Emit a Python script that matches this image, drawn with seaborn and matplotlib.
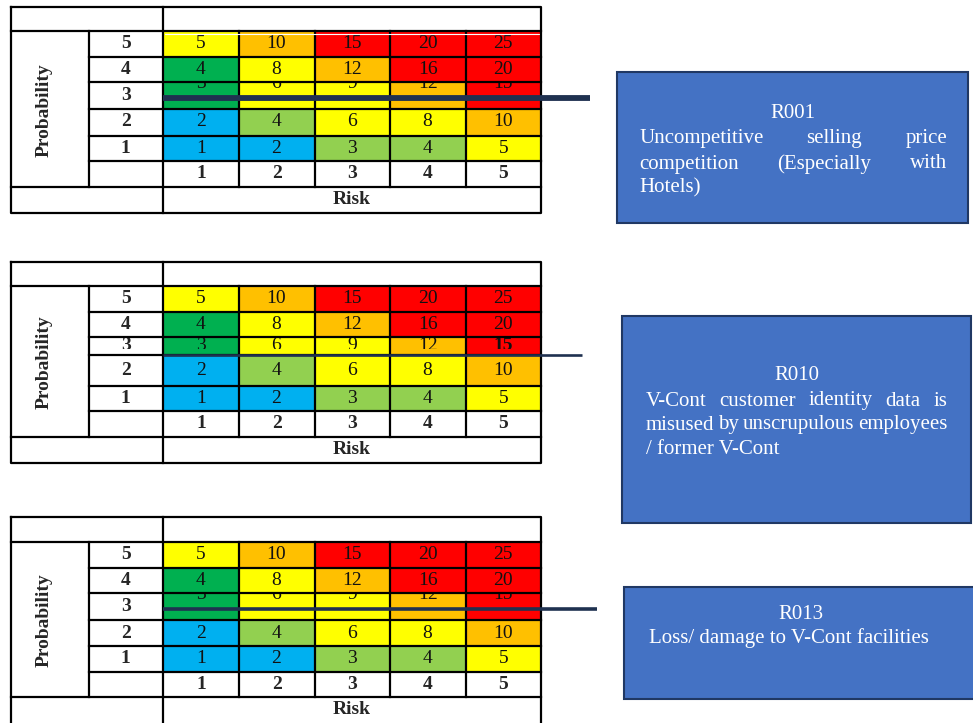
import numpy as np
import matplotlib
matplotlib.use("Agg")
import matplotlib.pyplot as plt
from matplotlib.colors import ListedColormap
from matplotlib.patches import Rectangle
from matplotlib.transforms import Bbox
import seaborn as sns

# ---------------- data ----------------
prob_labels = [5, 4, 3, 2, 1]
risk_labels = [1, 2, 3, 4, 5]
scores = [[5, 10, 15, 20, 25],
          [4, 8, 12, 16, 20],
          [3, 6, 9, 12, 15],
          [2, 4, 6, 8, 10],
          [1, 2, 3, 4, 5]]
# 0 very low, 1 low, 2 low-moderate, 3 moderate, 4 high, 5 extreme
levels = [[3, 4, 5, 5, 5],
          [2, 3, 4, 5, 5],
          [2, 3, 3, 4, 5],
          [0, 1, 3, 3, 4],
          [0, 0, 1, 1, 3]]
level_colors = ["#00B0F0", "#92D050", "#00B050", "#FFFF00", "#FFC000", "#FF0000"]

risk_ids = ["R001", "R010", "R013"]
risk_lines = [
    ["Uncompetitive selling price", "competition (Especially with", "Hotels)"],
    ["V-Cont customer identity data is", "misused by unscrupulous employees", "/ former V-Cont"],
    ["Loss/ damage to V-Cont facilities"],
]
risk_justify = [[True, True, False], [True, True, False], [False]]

# ---------------- layout (pixels) ----------------
W, H = 973, 723
X_OUT, X_PROB, X_GRID, X_END = 11, 88.5, 163, 541
col_edges = [163, 239, 314.5, 390, 465.5, 541]

layouts = [
    dict(top=7, rows=[31, 57, 82, 108.5, 135.5, 161], label=187, bottom=213,
         line_y=98, line_x=590, line_w=4.2, mode="upper"),
    dict(top=262, rows=[286, 311.5, 336.7, 355, 386, 411], label=437, bottom=463,
         line_y=355.3, line_x=582, line_w=1.9, mode="lower", cut=349),
    dict(top=516.5, rows=[542, 567.5, 593.3, 620, 646, 671.5], label=697.3, bottom=726,
         line_y=609, line_x=597, line_w=2.6, mode="upper"),
]

boxes = [(617, 72, 968, 223), (622, 316, 971, 523), (624, 587, 977, 699)]
box_text = [
    dict(id_base=118.5, bases=[143.5, 168.5, 192.5], left=639, right=947),
    dict(id_base=380, bases=[405.5, 429.5, 454], left=646, right=947),
    dict(id_base=619, bases=[643.5], left=649, right=932),
]

sns.set_theme(style="white")
plt.rcParams["font.family"] = ["Liberation Serif", "DejaVu Serif"]

DPI = 100
fig = plt.figure(figsize=(W / DPI, H / DPI), dpi=DPI)
bg = fig.add_axes([0, 0, 1, 1], zorder=0)
bg.set_xlim(0, W)
bg.set_ylim(H, 0)
bg.axis("off")

over = fig.add_axes([0, 0, 1, 1], zorder=3)
over.set_xlim(0, W)
over.set_ylim(H, 0)
over.axis("off")
over.patch.set_alpha(0)


def pixel_box(x0, y0, x1, y1):
    """Display-space clip box for a region given in top-left pixel coordinates."""
    return Bbox.from_extents(x0, H - y1, x1, H - y0)


cmap = ListedColormap(level_colors)
FS = 14
LINE = dict(color="black", lw=1.6, solid_capstyle="projecting")
NAVY = "#1F3150"

for k, lay in enumerate(layouts):
    rows = np.array(lay["rows"], dtype=float)
    ax = fig.add_axes([X_GRID / W, 1 - rows[-1] / H, (X_END - X_GRID) / W,
                       (rows[-1] - rows[0]) / H], zorder=1)
    sns.heatmap(np.array(levels), ax=ax, cmap=cmap, vmin=-0.5, vmax=5.5, cbar=False,
                annot=np.array(scores), fmt="d", linewidths=0,
                annot_kws=dict(fontsize=FS, color="#111111"),
                xticklabels=False, yticklabels=False)

    # row heights follow the table rows, which are not all equal
    rel = rows - rows[0]
    kd = np.concatenate([[-100.0], np.arange(6.0), [105.0]])
    kp = np.concatenate([[rel[0] - 100 * (rel[1] - rel[0])], rel,
                         [rel[-1] + 100 * (rel[-1] - rel[-2])]])
    fwd = lambda y, kd=kd, kp=kp: np.interp(y, kd, kp)
    inv = lambda p, kd=kd, kp=kp: np.interp(p, kp, kd)
    ax.set_yscale("function", functions=(fwd, inv))
    ax.set_xlim(0, 5)
    ax.set_ylim(5, 0)
    ax.axis("off")

    # middle row: text partly hidden inside its cells
    row_top = rows[2]
    row_end = rows[3] if lay["mode"] == "upper" else lay["cut"]
    for t in ax.texts:
        x, y = t.get_position()
        if abs(y - 2.5) < 1e-6:
            if lay["mode"] == "upper":
                t.set_y(float(inv(rel[2] + 1.0)))
            elif t.get_text() == "15":
                t.set_fontweight("bold")
            t.set_clip_box(pixel_box(X_GRID, row_top, X_END, row_end))
            t.set_clip_on(True)

    # probability labels
    for i, p in enumerate(prob_labels):
        yc = (rows[i] + rows[i + 1]) / 2
        t = bg.text((X_PROB + X_GRID) / 2, yc, str(p), ha="center", va="center",
                    fontsize=FS, fontweight="bold")
        if lay["mode"] == "lower" and i == 2:
            t.set_clip_box(pixel_box(X_PROB, row_top, X_GRID, row_end))
            t.set_clip_on(True)
    # risk labels
    for j, r in enumerate(risk_labels):
        bg.text((col_edges[j] + col_edges[j + 1]) / 2, (rows[-1] + lay["label"]) / 2,
                str(r), ha="center", va="center", fontsize=FS, fontweight="bold")
    bg.text((X_GRID + X_END) / 2, (lay["label"] + min(lay["bottom"], 722)) / 2, "Risk",
            ha="center", va="center", fontsize=FS, fontweight="bold")
    bg.text((X_OUT + X_PROB) / 2 - 6, (rows[0] + lay["label"]) / 2 + 1, "Probability",
            rotation=90, ha="center", va="center", fontsize=FS, fontweight="bold")

    # table rules
    t0, b0 = lay["top"], lay["bottom"]
    over.plot([X_OUT, X_END, X_END, X_OUT, X_OUT], [t0, t0, b0, b0, t0], **LINE)
    for yy in (rows[0], lay["label"]):
        over.plot([X_OUT, X_END], [yy, yy], **LINE)
    for yy in rows[1:]:
        over.plot([X_PROB, X_END], [yy, yy], **LINE)
    over.plot([X_GRID, X_GRID], [t0, b0], **LINE)
    for xx in [X_PROB] + col_edges[1:-1]:
        over.plot([xx, xx], [rows[0], lay["label"]], **LINE)
    if k == 0:
        over.plot([X_GRID + 2, X_END - 2], [rows[0] + 2.5] * 2, color="white", lw=0.8)

    # connector towards the risk description
    over.plot([X_GRID, lay["line_x"]], [lay["line_y"]] * 2, color=NAVY,
              lw=lay["line_w"], solid_capstyle="butt")

# ---------------- description boxes ----------------
renderer = fig.canvas.get_renderer()
for (x0, y0, x1, y1), rid, lines, just, bt in zip(boxes, risk_ids, risk_lines,
                                                  risk_justify, box_text):
    bg.add_patch(Rectangle((x0, y0), x1 - x0, y1 - y0, facecolor="#4472C4",
                           edgecolor="#203864", lw=1.5))
    bg.text((x0 + x1) / 2, bt["id_base"], rid, ha="center", va="baseline",
            fontsize=15, color="white")
    for line, base, j in zip(lines, bt["bases"], just):
        if not j:
            bg.text(bt["left"], base, line, ha="left", va="baseline", fontsize=15,
                    color="white")
            continue
        words = line.split(" ")
        objs = [bg.text(bt["left"], base, w, ha="left", va="baseline", fontsize=15,
                        color="white") for w in words]
        widths = [o.get_window_extent(renderer).width for o in objs]
        gap = (bt["right"] - bt["left"] - sum(widths)) / (len(words) - 1)
        x = bt["left"]
        for o, w in zip(objs, widths):
            o.set_x(x)
            x += w + gap

fig.savefig("out.png", dpi=DPI)
